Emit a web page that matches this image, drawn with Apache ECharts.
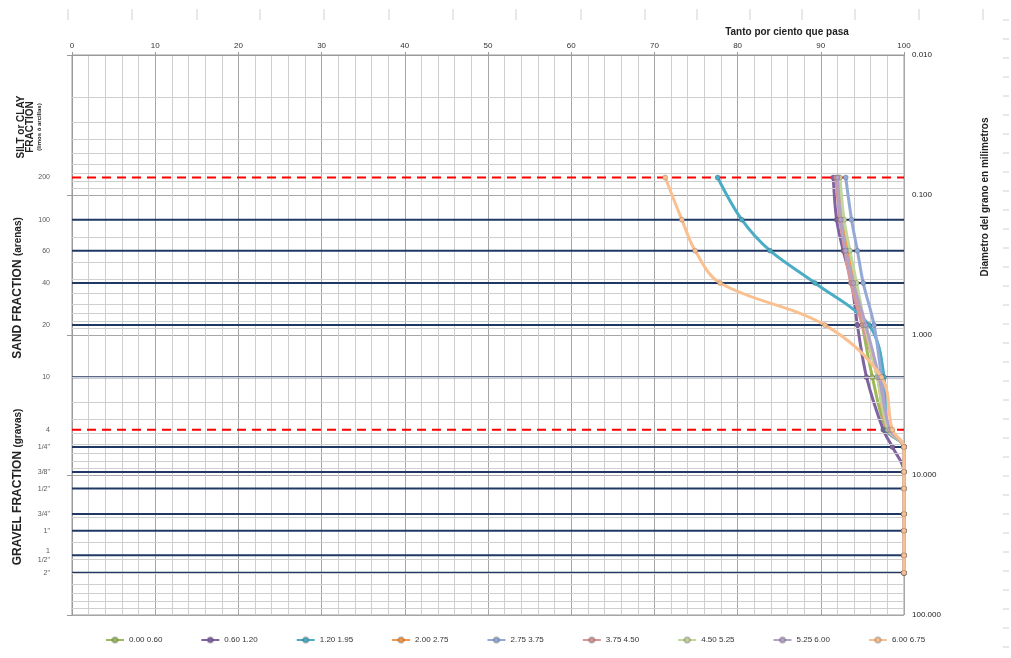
<!DOCTYPE html>
<html>
<head>
<meta charset="utf-8">
<script src="https://cdn.jsdelivr.net/npm/echarts@6/dist/echarts.min.js"></script>
<style>
  html, body { margin: 0; padding: 0; background: #fff; }
  #container { width: 1011px; height: 658px; }
</style>
</head>
<body>
<div id="container"></div>
<script>
// tamices (mm) y sus nombres
var sieveSizes = [0.075, 0.15, 0.25, 0.425, 0.85, 2.0, 4.75, 6.3, 9.5, 12.5, 19, 25, 37.5, 50];
var sieveNames = ['200', '100', '60', '40', '20', '10', '4', '1/4"', '3/8"', '1/2"', '3/4"', '1"', '1\n1/2"', '2"'];
var dashedSieves = ['200', '4'];

// profundidades (leyenda) y % que pasa en cada tamiz
var depthNames = ['0.00 0.60', '0.60 1.20', '1.20 1.95', '2.00 2.75', '2.75 3.75', '3.75 4.50', '4.50 5.25', '5.25 6.00', '6.00 6.75'];
var colors = ['#9BBB59', '#8064A2', '#4BACC6', '#F79646', '#93AAD8', '#D99694', '#C3D69B', '#B3A2C7', '#FAC090'];

var pass000 = [92.2, 92.6, 93.3, 94.2, 95.0, 96.2, 97.9, 100, 100, 100, 100, 100, 100, 100];
var pass060 = [91.5, 91.9, 92.7, 93.7, 94.4, 95.5, 97.5, 98.6, 100, 100, 100, 100, 100, 100];
var pass120 = [77.6, 80.5, 83.9, 89.3, 95.8, 97.6, 97.9, 100, 100, 100, 100, 100, 100, 100];
var pass200 = [92.0, 92.5, 93.2, 94.0, 95.2, 96.8, 98.0, 100, 100, 100, 100, 100, 100, 100];
var pass275 = [93.0, 93.7, 94.4, 95.1, 96.4, 97.3, 98.2, 100, 100, 100, 100, 100, 100, 100];
var pass375 = [91.8, 92.3, 92.9, 93.6, 95.0, 96.9, 98.0, 100, 100, 100, 100, 100, 100, 100];
var pass450 = [92.3, 92.8, 93.5, 94.3, 95.3, 96.8, 98.1, 100, 100, 100, 100, 100, 100, 100];
var pass525 = [92.0, 92.4, 93.0, 93.9, 95.4, 97.0, 98.3, 100, 100, 100, 100, 100, 100, 100];
var pass600 = [71.3, 73.3, 74.9, 77.9, 90.5, 97.3, 98.6, 100, 100, 100, 100, 100, 100, 100];
var allPass = [pass000, pass060, pass120, pass200, pass275, pass375, pass450, pass525, pass600];

var FONT = '"Liberation Sans", Arial, sans-serif';

var dom = document.getElementById('container');
var myChart = echarts.init(dom, null, { renderer: 'canvas' });

// lineas menores de la escala log (2..9 por decada)
var minorLines = [];
for (var d = -2; d <= 1; d++) {
  for (var k = 2; k <= 9; k++) {
    minorLines.push({ yAxis: Number((k * Math.pow(10, d)).toPrecision(3)) });
  }
}

var series = [
  {
    name: 'grid',
    type: 'line',
    data: [],
    silent: true,
    z: 1,
    markLine: {
      silent: true,
      symbol: 'none',
      animation: false,
      label: { show: false },
      lineStyle: { color: '#cfcfcf', width: 1, type: 'solid' },
      data: minorLines
    }
  }
];

// una linea horizontal por tamiz, con su nombre a la izquierda
sieveSizes.forEach(function (s, i) {
  var dashed = dashedSieves.indexOf(sieveNames[i]) >= 0;
  series.push({
    name: 'tamiz ' + sieveNames[i],
    type: 'line',
    silent: true,
    z: 2,
    symbol: 'circle',
    symbolSize: 0.1,
    itemStyle: { color: 'rgba(0,0,0,0)' },
    lineStyle: dashed
      ? { color: '#FF0000', width: 2, type: [9, 6] }
      : { color: '#1F3864', width: 2, type: 'solid' },
    data: [
      {
        value: [0, s],
        label: {
          show: true,
          position: 'left',
          distance: 22,
          formatter: sieveNames[i],
          color: '#595959',
          fontSize: 7,
          fontFamily: FONT,
          lineHeight: 9
        }
      },
      { value: [100, s] }
    ]
  });
});

depthNames.forEach(function (n, i) {
  series.push({
    name: n,
    type: 'line',
    smooth: 0.35,
    clip: false,
    z: 3 + i,
    symbol: 'circle',
    symbolSize: 5,
    lineStyle: { width: 3, color: colors[i] },
    itemStyle: { color: colors[i], borderColor: 'rgba(60,60,60,0.25)', borderWidth: 1 },
    data: sieveSizes.map(function (s, j) { return [allPass[i][j], s]; })
  });
});

// adornos de la hoja de calculo
var deco = [];
var topTicks = [68, 132, 197, 260, 324, 389, 453, 516, 581, 645, 697, 750, 802, 855, 919, 983];
topTicks.forEach(function (x) {
  deco.push({ type: 'line', shape: { x1: x, y1: 9, x2: x, y2: 20 }, style: { stroke: '#d0d0d0', lineWidth: 1 }, silent: true });
});
for (var yy = 20; yy <= 648; yy += 19) {
  deco.push({ type: 'line', shape: { x1: 1003, y1: yy, x2: 1009, y2: yy }, style: { stroke: '#d0d0d0', lineWidth: 1 }, silent: true });
}

var texts = [
  {
    type: 'text', x: 787, y: 32,
    style: { text: 'Tanto por ciento que pasa', font: 'bold 10px ' + FONT, fill: '#222', align: 'center', verticalAlign: 'middle' }
  },
  {
    type: 'text', x: 985, y: 197, rotation: Math.PI / 2,
    style: { text: 'Diametro del grano en milimetros', font: 'bold 10px ' + FONT, fill: '#222', align: 'center', verticalAlign: 'middle' }
  },
  {
    type: 'text', x: 30, y: 127, rotation: Math.PI / 2,
    style: {
      text: '{a|SILT or CLAY}\n{a|FRACTION}\n{b|(limos ó arcillas)}',
      align: 'center', verticalAlign: 'middle',
      rich: {
        a: { font: 'bold 10px ' + FONT, fill: '#222', lineHeight: 9 },
        b: { font: 'bold 6px ' + FONT, fill: '#222', lineHeight: 8 }
      }
    }
  },
  {
    type: 'text', x: 18, y: 288, rotation: Math.PI / 2,
    style: {
      text: '{a|SAND FRACTION} {b|(arenas)}',
      align: 'center', verticalAlign: 'middle',
      rich: {
        a: { font: 'bold 12px ' + FONT, fill: '#222' },
        b: { font: 'bold 10px ' + FONT, fill: '#222' }
      }
    }
  },
  {
    type: 'text', x: 18, y: 487, rotation: Math.PI / 2,
    style: {
      text: '{a|GRAVEL FRACTION} {b|(gravas)}',
      align: 'center', verticalAlign: 'middle',
      rich: {
        a: { font: 'bold 12px ' + FONT, fill: '#222' },
        b: { font: 'bold 10px ' + FONT, fill: '#222' }
      }
    }
  }
];

var option = {
  animation: false,
  textStyle: { fontFamily: FONT },
  grid: {
    left: 72, right: 107, top: 55, bottom: 43,
    show: true, borderColor: '#9a9a9a', borderWidth: 1
  },
  legend: {
    data: depthNames,
    top: 631,
    left: 100,
    itemWidth: 18,
    itemHeight: 7,
    itemGap: 38,
    textStyle: { fontSize: 8, color: '#333' }
  },
  xAxis: {
    type: 'value',
    position: 'top',
    min: 0,
    max: 100,
    interval: 10,
    axisLine: { show: true, lineStyle: { color: '#9a9a9a' } },
    axisTick: { show: true, length: 3, lineStyle: { color: '#9a9a9a' } },
    axisLabel: { fontSize: 8, color: '#333', margin: 5 },
    splitLine: { show: true, lineStyle: { color: '#a6a6a6', width: 1 } },
    minorTick: { show: false, splitNumber: 5 },
    minorSplitLine: { show: true, lineStyle: { color: '#cfcfcf', width: 1 } }
  },
  yAxis: [
    {
      type: 'log',
      logBase: 10,
      min: 0.01,
      max: 100,
      inverse: true,
      position: 'right',
      axisLine: { show: true, lineStyle: { color: '#9a9a9a' } },
      axisTick: { show: false },
      axisLabel: {
        fontSize: 8, color: '#222', margin: 8,
        formatter: function (v) { return Number(v).toFixed(3); }
      },
      splitLine: { show: true, lineStyle: { color: '#a6a6a6', width: 1 } }
    },
    {
      type: 'log',
      logBase: 10,
      min: 0.01,
      max: 100,
      inverse: true,
      position: 'left',
      axisLine: { show: false },
      axisTick: { show: true, length: 5, lineStyle: { color: '#9a9a9a' } },
      axisLabel: { show: false },
      splitLine: { show: false }
    }
  ],
  graphic: deco.concat(texts),
  series: series
};

myChart.setOption(option);
window.addEventListener('resize', myChart.resize);
</script>
</body>
</html>
